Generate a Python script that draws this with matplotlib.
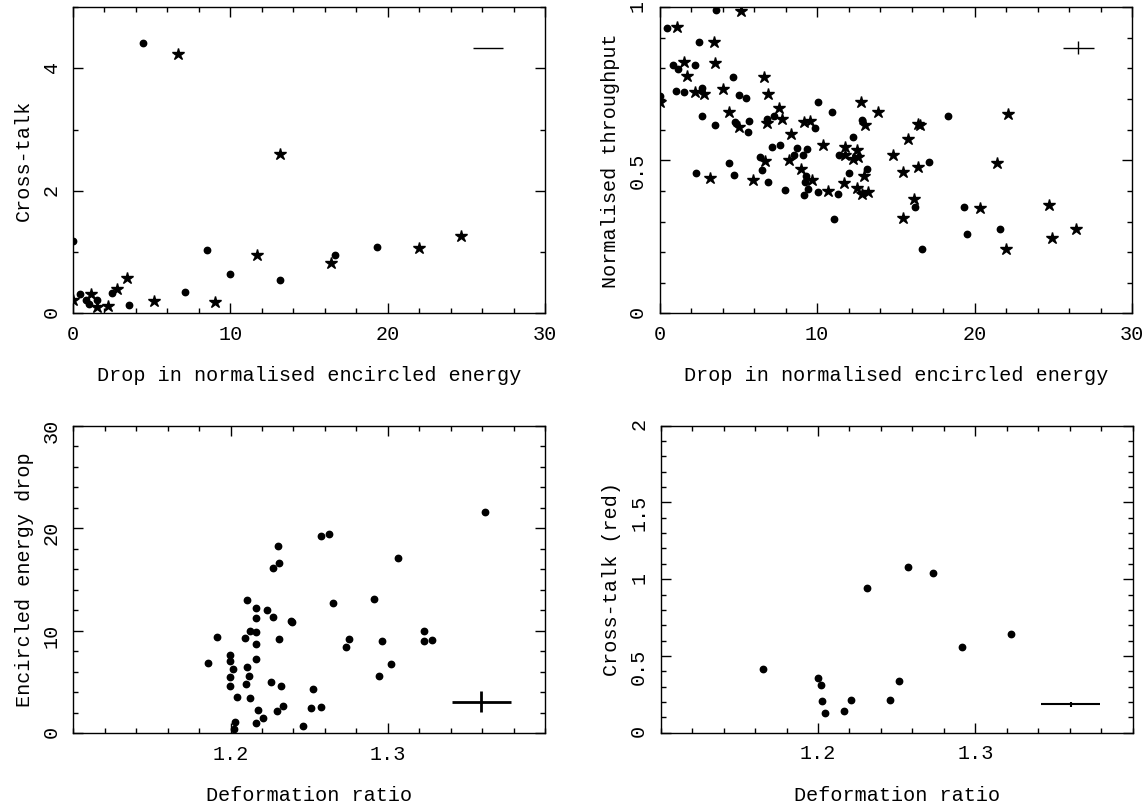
import numpy as np
import matplotlib
matplotlib.use('Agg')
import matplotlib.pyplot as plt
from matplotlib.ticker import MultipleLocator, FormatStrFormatter

# panel 1: cross-talk vs drop in encircled energy
ct_dot_x = [0.0, 0.46, 0.81, 0.99, 1.55, 2.49, 3.58, 4.43, 7.11, 8.49, 9.99, 13.15, 16.64, 19.29]
ct_dot_y = [1.18, 0.31, 0.22, 0.15, 0.22, 0.34, 0.13, 4.42, 0.35, 1.04, 0.65, 0.55, 0.95, 1.08]
ct_star_x = [0.0, 1.13, 1.5, 2.22, 2.77, 3.42, 5.15, 6.67, 9.0, 11.72, 13.18, 16.41, 21.97, 24.69]
ct_star_y = [0.22, 0.31, 0.11, 0.12, 0.39, 0.58, 0.20, 4.23, 0.18, 0.95, 2.60, 0.82, 1.07, 1.27]
ct_err = [26.4, 4.33, 0.96, 0.0]  # x, y, xerr, yerr

# panel 2: normalised throughput vs drop in encircled energy
tp_dot_x = [0.05, 0.5, 0.83, 1.03, 1.17, 1.58, 2.27, 2.34, 2.5, 2.68, 2.7, 3.51, 3.6,
            4.42, 4.68, 4.7, 4.81, 5.02, 5.52, 5.62, 5.66, 6.37, 6.49, 6.85, 6.9, 7.15,
            7.29, 7.63, 7.98, 8.53, 8.76, 9.1, 9.19, 9.21, 9.28, 9.37, 9.42, 9.9, 10.04,
            10.04, 10.93, 11.07, 11.35, 11.39, 12.03, 12.31, 12.84, 13.2, 16.2, 16.64,
            17.14, 18.31, 19.32, 19.53, 21.61]
tp_dot_y = [0.709, 0.933, 0.812, 0.727, 0.799, 0.724, 0.811, 0.459, 0.888, 0.737, 0.646,
            0.615, 0.991, 0.491, 0.772, 0.453, 0.624, 0.713, 0.703, 0.592, 0.629, 0.512,
            0.468, 0.636, 0.429, 0.543, 0.646, 0.55, 0.404, 0.518, 0.539, 0.517, 0.388,
            0.428, 0.45, 0.536, 0.407, 0.605, 0.396, 0.691, 0.659, 0.309, 0.39, 0.517,
            0.459, 0.575, 0.632, 0.472, 0.349, 0.211, 0.496, 0.646, 0.348, 0.258, 0.277]
tp_star_x = [0.05, 1.12, 1.58, 1.76, 2.25, 2.82, 3.21, 3.46, 3.55, 4.06, 4.4, 5.02, 5.16,
             5.91, 6.62, 6.72, 6.81, 6.9, 7.59, 7.77, 8.21, 8.37, 9.01, 9.19, 9.56, 9.67,
             10.41, 10.68, 11.71, 11.78, 11.78, 12.29, 12.51, 12.56, 12.61, 12.81, 12.86,
             12.97, 13.06, 13.22, 13.87, 14.85, 15.45, 15.47, 15.75, 16.18, 16.39, 16.43,
             16.57, 20.35, 21.41, 22.0, 22.14, 24.71, 24.89, 26.47]
tp_star_y = [0.689, 0.934, 0.822, 0.777, 0.724, 0.718, 0.441, 0.886, 0.817, 0.733, 0.658,
             0.608, 0.988, 0.437, 0.771, 0.498, 0.622, 0.718, 0.671, 0.635, 0.501, 0.585,
             0.47, 0.625, 0.628, 0.437, 0.551, 0.399, 0.425, 0.542, 0.517, 0.503, 0.533,
             0.411, 0.51, 0.691, 0.39, 0.449, 0.615, 0.396, 0.658, 0.517, 0.462, 0.31,
             0.571, 0.373, 0.618, 0.477, 0.615, 0.343, 0.49, 0.211, 0.651, 0.354, 0.246,
             0.276]
tp_err = [26.6, 0.868, 1.0, 0.022]

# panel 3: encircled energy drop vs deformation ratio
ee_x = [1.1858, 1.1911, 1.1999, 1.1999, 1.2013, 1.1999, 1.1999, 1.2043, 1.2029, 1.202,
        1.2103, 1.2089, 1.2124, 1.2103, 1.2115, 1.2101, 1.2124, 1.2164, 1.2164, 1.2164,
        1.2164, 1.2164, 1.2175, 1.2164, 1.2208, 1.2233, 1.2254, 1.227, 1.227, 1.2302,
        1.2309, 1.2309, 1.2293, 1.2321, 1.2332, 1.2386, 1.239, 1.246, 1.2513, 1.2524,
        1.2573, 1.2573, 1.2624, 1.2654, 1.2733, 1.2756, 1.2913, 1.2941, 1.2962, 1.3019,
        1.3066, 1.3228, 1.3228, 1.3281, 1.3621]
ee_y = [6.83, 9.37, 7.61, 7.09, 6.31, 5.47, 4.62, 3.55, 1.14, 0.42, 13.02, 9.34, 9.99,
        6.44, 5.56, 4.78, 3.45, 12.24, 11.29, 9.86, 8.69, 7.26, 2.28, 0.98, 1.46, 12.01,
        4.98, 16.14, 11.36, 18.26, 16.6, 9.18, 2.21, 4.65, 2.64, 11.0, 10.87, 0.75, 2.47,
        4.36, 19.26, 2.6, 19.46, 12.76, 8.46, 9.24, 13.11, 5.6, 9.05, 6.77, 17.08, 9.99,
        9.05, 9.14, 21.57]
ee_err = [1.3595, 3.09, 0.0186, 1.04]

# panel 4: cross-talk (red) vs deformation ratio
red_x = [1.1648, 1.1998, 1.2019, 1.2028, 1.2044, 1.2163, 1.2207, 1.231, 1.2459, 1.2514,
         1.2571, 1.2731, 1.2912, 1.3228]
red_y = [0.417, 0.354, 0.313, 0.209, 0.126, 0.141, 0.213, 0.943, 0.213, 0.337, 1.08,
         1.043, 0.561, 0.643]
red_err = [1.3606, 0.185, 0.0188, 0.017]


def style_axes(ax, xmaj, xmin, ymaj, ymin):
    ax.xaxis.set_major_locator(MultipleLocator(xmaj))
    ax.xaxis.set_minor_locator(MultipleLocator(xmin))
    ax.yaxis.set_major_locator(MultipleLocator(ymaj))
    ax.yaxis.set_minor_locator(MultipleLocator(ymin))
    ax.yaxis.set_major_formatter(FormatStrFormatter('%g'))
    ax.tick_params(which='both', direction='in', top=True, right=True, width=1.0)
    ax.tick_params(which='major', length=7.2)
    ax.tick_params(which='minor', length=3.6)
    ax.tick_params(axis='x', pad=8.5)
    ax.tick_params(axis='y', pad=9, labelrotation=90)
    for s in ax.spines.values():
        s.set_linewidth(1.0)


def add_err(ax, err, lw):
    ax.errorbar([err[0]], [err[1]], xerr=[err[2]], yerr=[err[3]], fmt='none',
                ecolor='black', elinewidth=lw, capsize=0)


def main():
    plt.rcParams['font.family'] = ['Liberation Mono', 'DejaVu Sans Mono']
    plt.rcParams['font.size'] = 14.5

    fig = plt.figure(figsize=(11.46, 8.08), dpi=100)
    ax1 = fig.add_axes([0.0637, 0.6122, 0.4119, 0.3788])
    ax2 = fig.add_axes([0.5755, 0.6122, 0.4123, 0.3788])
    ax3 = fig.add_axes([0.0640, 0.0925, 0.4116, 0.3803])
    ax4 = fig.add_axes([0.5765, 0.0932, 0.4119, 0.3800])

    dot = dict(color='black', marker='o', ms=4.6, ls='none')
    star = dict(color='black', marker='*', ms=9, ls='none')

    ax1.plot(ct_dot_x, ct_dot_y, **dot)
    ax1.plot(ct_star_x, ct_star_y, **star)
    add_err(ax1, ct_err, 1.0)
    ax1.set_xlim(0, 30)
    ax1.set_ylim(0, 5)
    style_axes(ax1, 10, 2, 2, 1)
    ax1.set_xlabel('Drop in normalised encircled energy', labelpad=16)
    ax1.set_ylabel('Cross-talk', labelpad=6)

    ax2.plot(tp_dot_x, tp_dot_y, **dot)
    ax2.plot(tp_star_x, tp_star_y, **star)
    add_err(ax2, tp_err, 1.0)
    ax2.set_xlim(0, 30)
    ax2.set_ylim(0, 1)
    style_axes(ax2, 10, 2, 0.5, 0.1)
    ax2.set_xlabel('Drop in normalised encircled energy', labelpad=16)
    ax2.set_ylabel('Normalised throughput', labelpad=6)

    ax3.plot(ee_x, ee_y, **dot)
    add_err(ax3, ee_err, 2.0)
    ax3.set_xlim(1.1, 1.4)
    ax3.set_ylim(0, 30)
    style_axes(ax3, 0.1, 0.02, 10, 2)
    ax3.set_xlabel('Deformation ratio', labelpad=16)
    ax3.set_ylabel('Encircled energy drop', labelpad=6)

    ax4.plot(red_x, red_y, **dot)
    add_err(ax4, red_err, 1.5)
    ax4.set_xlim(1.1, 1.4)
    ax4.set_ylim(0, 2)
    style_axes(ax4, 0.1, 0.02, 0.5, 0.1)
    ax4.set_xlabel('Deformation ratio', labelpad=16)
    ax4.set_ylabel('Cross-talk (red)', labelpad=6)

    for ax in (ax3, ax4):
        ax.set_xticks([1.2, 1.3])
        ax.set_xticklabels(['1.2', '1.3'])
        ax.xaxis.set_minor_locator(MultipleLocator(0.02))
        ax.set_xlim(1.1, 1.4)

    fig.savefig('out.png', dpi=100)


if __name__ == '__main__':
    main()
